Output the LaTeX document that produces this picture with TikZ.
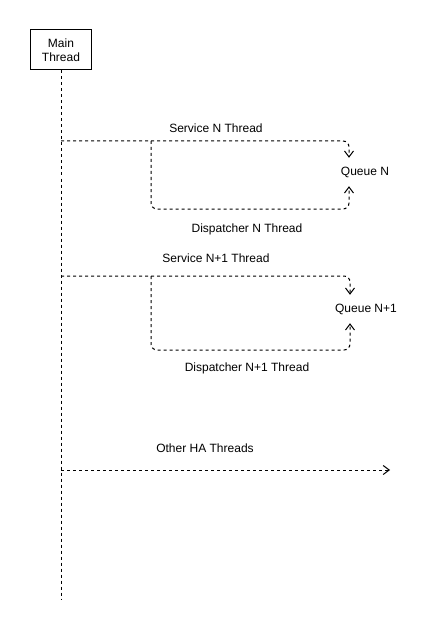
\documentclass[tikz,border=0pt]{standalone}
\usepackage{fontspec}
\setmainfont{Liberation Sans}
\usetikzlibrary{arrows.meta,positioning}
\usepackage{xcolor}
\definecolor{lineblack}{RGB}{0,0,0}

\begin{document}
\begin{tikzpicture}[
  x=1pt, y=-1pt,
  lbl/.style={font=\fontsize{12}{14}\selectfont, inner sep=0pt},
  queue/.style={font=\fontsize{12}{14}\selectfont, inner sep=0pt, minimum height=28pt},
  box/.style={rectangle, draw=lineblack, minimum width=61pt, minimum height=40pt, align=center, font=\fontsize{12}{14}\selectfont, line width=1pt},
  dsh/.style={draw=lineblack, dash pattern=on 3pt off 3pt, line width=1pt},
  arr/.style={dsh, -{Straight Barb[length=6pt,width=9pt]}, rounded corners=6pt}
]
\useasboundingbox (0,0) rectangle (431,631);
\node[box] (main) at (61,50) {Main\\Thread};
\coordinate (mainend) at (61,600);

% queues
\node[queue] (qn) at (365,172) {Queue N};
\node[queue] (qn1) at (366,309) {Queue N+1};
\coordinate (qnin) at ([xshift=-16pt]qn.north);
\coordinate (qnout) at ([xshift=-16pt]qn.south);
\coordinate (qn1in) at ([xshift=-16pt]qn1.north);
\coordinate (qn1out) at ([xshift=-16pt]qn1.south);

% labels
\node[lbl] (srvNlbl) at (216,128) {Service N Thread};
\node[lbl] (dspNlbl) at (247,229) {Dispatcher N Thread};
\node[lbl] (srvN1lbl) at (216,258) {Service N+1 Thread};
\node[lbl] (dspN1lbl) at (247,368) {Dispatcher N+1 Thread};
\node[lbl] (othrlbl) at (205,448) {Other HA Threads};

% branch points
\coordinate (srvN) at (61,141);
\coordinate (dspN) at (151,141);
\coordinate (srvN1) at (61,276);
\coordinate (dspN1) at (151,276);
\coordinate (othr) at (61,470);
\coordinate (othrend) at (390,470);

\draw[dsh] (main) -- (mainend);
\draw[arr] (srvN) -| (qnin);
\draw[arr] (dspN) -- (151,209) -| (qnout);
\draw[arr] (srvN1) -| (qn1in);
\draw[arr] (dspN1) -- (151,350) -| (qn1out);
\draw[arr] (othr) -- (othrend);
\end{tikzpicture}
\end{document}
